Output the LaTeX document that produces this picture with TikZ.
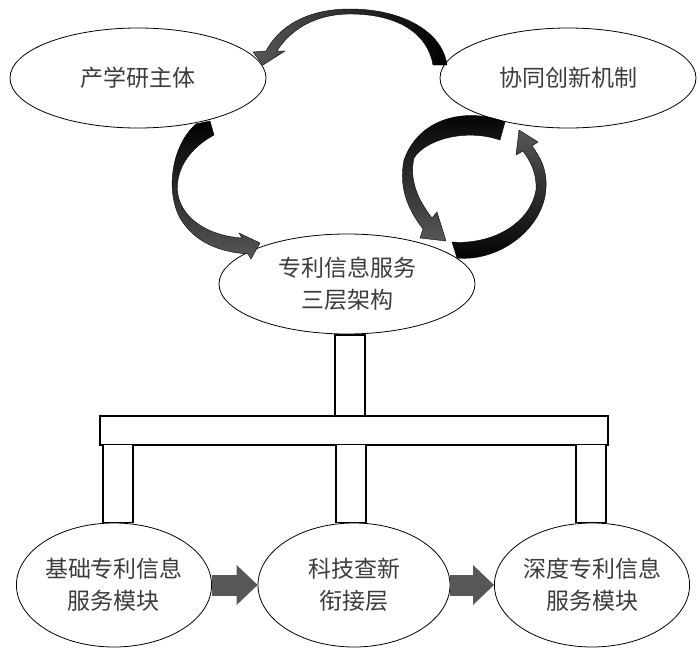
\documentclass[tikz,border=0pt]{standalone}
\usepackage{fontspec}
\newfontfamily\cjk{Noto Sans CJK SC}
\usetikzlibrary{shapes.geometric,arrows.meta,positioning}
\definecolor{txtgray}{HTML}{3C3C3C}
\definecolor{arrgray}{HTML}{575757}

\begin{document}
\begin{tikzpicture}[x=1pt,y=-1pt,
    oval/.style={ellipse,draw,line width=0.8pt,fill=white,inner sep=0pt,align=center,
        text=txtgray,font=\cjk\fontsize{23}{32}\selectfont},
    pillar/.style={rectangle,draw,line width=1.1pt,fill=white,inner sep=0pt,minimum width=30pt},
    flow/.style={line width=21pt,arrgray,-{Triangle[width=40pt,length=21pt,line width=0pt]}},
    swoop/.style={draw=black,line width=0.4pt}]
    \useasboundingbox (0,0) rectangle (699,651);

    \node[oval,minimum width=256pt,minimum height=100pt] (subj) at (138,78) {产学研主体};
    \node[oval,minimum width=256pt,minimum height=100pt] (coop) at (568,78) {协同创新机制};
    \node[oval,minimum width=256pt,minimum height=100pt] (arch) at (347,284) {专利信息服务\\三层架构};
    \node[oval,minimum width=192pt,minimum height=124pt] (basic) at (114,585) {基础专利信息\\服务模块};
    \node[oval,minimum width=192pt,minimum height=124pt] (tech) at (354,585) {科技查新\\衔接层};
    \node[oval,minimum width=192pt,minimum height=124pt] (deep) at (592,585) {深度专利信息\\服务模块};

    \node[pillar,minimum width=508pt,minimum height=29pt] (beam) at (354,430.5) {};
    \node[pillar,minimum height=81pt,below=0pt of arch,xshift=3pt] (stem) {};
    \node[pillar,minimum height=78pt,above=0pt of basic,xshift=4pt] (lstem) {};
    \node[pillar,minimum height=78pt,above=0pt of tech,xshift=-3pt] (mstem) {};
    \node[pillar,minimum height=78pt,above=0pt of deep,xshift=-1pt] (rstem) {};

    \draw[flow] (basic) -- (tech);
    \draw[flow] (tech) -- (deep);

    \path[swoop,left color=arrgray,right color=black]
        (447,65) .. controls (442,30) and (400,9) .. (350,9)
        .. controls (305,9) and (278,28) .. (266,51)
        -- (253,52) -- (263,65) -- (285,51) -- (277,51)
        .. controls (290,30) and (315,14) .. (350,14)
        .. controls (400,14) and (428,35) .. (433,65) -- cycle;
    \path[swoop,top color=black,bottom color=arrgray]
        (196,124) -- (210,121) -- (214,135)
        .. controls (190,148) and (174,170) .. (178,195)
        .. controls (183,220) and (210,236) .. (242,238)
        -- (239,233) -- (260,243) -- (251,259) -- (248,254)
        .. controls (220,252) and (195,243) .. (180,218)
        .. controls (165,190) and (172,145) .. (196,124) -- cycle;
    \path[swoop,top color=black,bottom color=arrgray]
        (505,122) .. controls (470,108) and (420,115) .. (404,160)
        .. controls (398,190) and (410,212) .. (423,229)
        -- (420,238) -- (446,241) -- (437,212) -- (432,218)
        .. controls (418,200) and (409,180) .. (414,158)
        .. controls (425,140) and (465,128) .. (500,140) -- cycle;
    \path[swoop,top color=arrgray,bottom color=black]
        (452,242) .. controls (490,245) and (530,225) .. (536,190)
        .. controls (537,174) and (531,162) .. (523,151)
        -- (516,155) -- (519,130) -- (538,142) -- (532,146)
        .. controls (541,158) and (547,170) .. (546,188)
        .. controls (544,228) and (500,262) .. (457,258) -- cycle;
\end{tikzpicture}
\end{document}
